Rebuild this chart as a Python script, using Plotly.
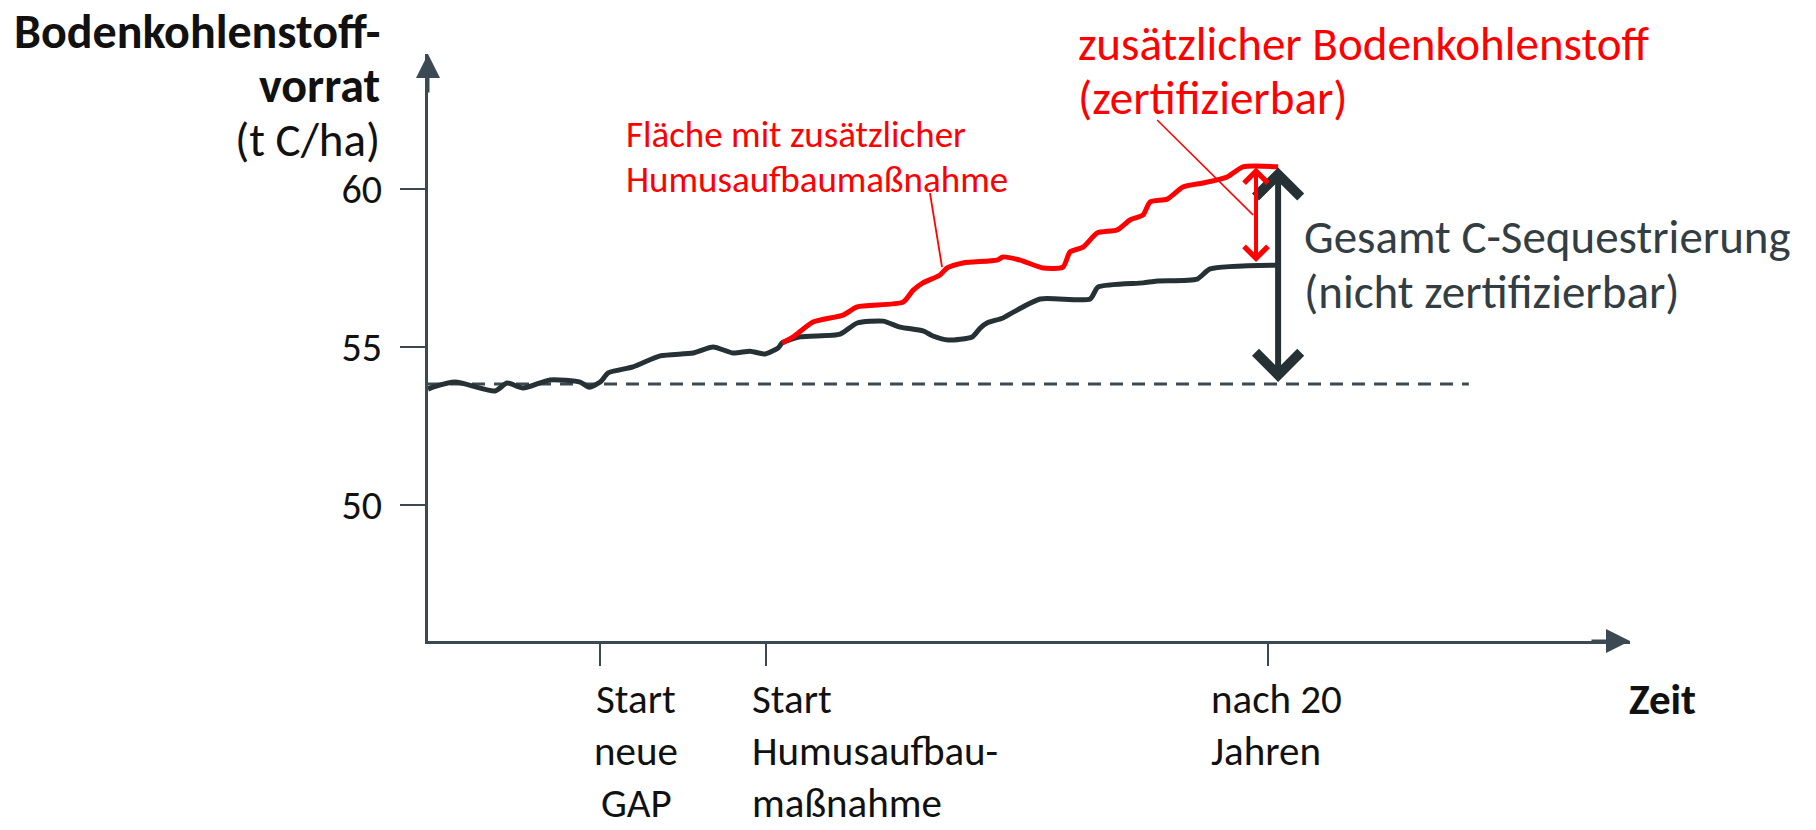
import plotly.graph_objects as go

# ---------------- data ----------------
# time axis: years relative to start of humus-building measure
black_t = [-13.47, -13.27, -12.39, -10.80, -10.32, -9.68, -8.61, -7.41, -7.05, -6.61, -6.29, -5.30,
           -4.22, -2.91, -2.11, -1.31, -0.64, -0.04, 0.48, 0.64, 1.35, 2.95, 3.63, 4.66, 5.34, 6.25,
           6.65, 7.25, 8.21, 8.53, 8.80, 9.44, 9.80, 10.92, 12.91, 13.23, 15.02, 15.58, 17.17, 17.69, 20.40]
black_c = [53.67, 53.73, 53.89, 53.61, 53.86, 53.70, 53.96, 53.89, 53.73, 53.89, 54.18, 54.37,
           54.72, 54.81, 55.00, 54.81, 54.87, 54.78, 54.97, 55.13, 55.32, 55.41, 55.76, 55.82, 55.63, 55.51,
           55.35, 55.22, 55.32, 55.60, 55.76, 55.92, 56.08, 56.52, 56.52, 56.90, 57.03, 57.09, 57.15, 57.47, 57.59]

red_t = [0.64, 1.08, 1.87, 3.07, 3.63, 5.46, 5.86, 6.25, 6.93, 7.21, 7.85, 9.20, 9.44, 10.12, 11.04,
         11.83, 12.11, 12.63, 13.19, 13.98, 14.50, 15.02, 15.30, 15.98, 16.61, 17.41, 18.37, 19.00, 20.40]
red_c = [55.13, 55.32, 55.79, 56.01, 56.27, 56.42, 56.80, 57.03, 57.28, 57.50, 57.66, 57.75, 57.85, 57.75, 57.50,
         57.53, 58.01, 58.16, 58.61, 58.70, 59.02, 59.18, 59.59, 59.68, 60.06, 60.19, 60.38, 60.70, 60.70]

baseline_c = 53.83
baseline_t = [-13.47, 28.0]

y_ticks = [50, 55, 60]
y_ticktext = ["50", "55", "60"]
x_ticks = [-6.6, 0, 20]
x_ticktext = [["Start", "neue", "GAP"], ["Start", "Humusaufbau-", "maßnahme"], ["nach 20", "Jahren"]]

end_t = 20.40          # "nach 20 Jahren" measurement point
red_arrow_t = 19.52
top_c = 60.68
red_bottom_c = 57.64
black_bottom_c = 53.85

# ---------------- styling ----------------
FONT = "Carlito, Lato, 'Open Sans', sans-serif"
DARK = "#263135"
AXIS = "#3b4a52"
RED = "#ff0000"

W, H = 1816, 830
L, R, T, B = 428, 186, 54, 189


def PX(x):
    return (x - L) / (W - L - R)


def PY(y):
    return (H - B - y) / (H - T - B)


fig = go.Figure()

fig.add_trace(go.Scatter(x=baseline_t, y=[baseline_c, baseline_c], mode="lines",
                         line=dict(color=AXIS, width=3, dash="13px,9px"), hoverinfo="skip"))
fig.add_trace(go.Scatter(x=black_t, y=black_c, mode="lines",
                         line=dict(color=DARK, width=5, shape="spline", smoothing=0.6)))
fig.add_trace(go.Scatter(x=red_t, y=red_c, mode="lines",
                         line=dict(color=RED, width=5, shape="spline", smoothing=0.6)))

ann = []
# axis arrows
ann.append(dict(x=1, y=0, xref="paper", yref="paper", ax=-40, ay=0, text="", showarrow=True,
                arrowhead=2, arrowsize=1.6, arrowwidth=3, arrowcolor=AXIS, standoff=0))
ann.append(dict(x=0, y=1, xref="paper", yref="paper", ax=0, ay=40, text="", showarrow=True,
                arrowhead=2, arrowsize=1.6, arrowwidth=3, arrowcolor=AXIS, standoff=0))
# double arrows
ann.append(dict(x=end_t, y=top_c, ax=end_t, ay=black_bottom_c, xref="x", yref="y", axref="x", ayref="y",
                text="", showarrow=True, arrowside="end+start", arrowhead=4, startarrowhead=4,
                arrowsize=1.45, startarrowsize=1.45, arrowwidth=6, arrowcolor=DARK, standoff=0, startstandoff=0))
ann.append(dict(x=red_arrow_t, y=top_c, ax=red_arrow_t, ay=red_bottom_c, xref="x", yref="y", axref="x", ayref="y",
                text="", showarrow=True, arrowside="end+start", arrowhead=4, startarrowhead=4,
                arrowsize=1.15, startarrowsize=1.15, arrowwidth=4, arrowcolor=RED, standoff=0, startstandoff=0))


def txt(s, x, y, xanchor, size, color="#111111", bold=False):
    if bold:
        s = "<b>" + s + "</b>"
    ann.append(dict(text=s, x=PX(x), y=PY(y), xref="paper", yref="paper", xanchor=xanchor, yanchor="middle",
                    showarrow=False, font=dict(family=FONT, size=size, color=color)))


# y-axis title
txt("Bodenkohlenstoff-", 382, 31, "right", 48, bold=True)
txt("vorrat", 382, 85, "right", 48, bold=True)
txt("(t C/ha)", 382, 140, "right", 47)

# x tick labels
line_y = [699, 751, 803]
XF = 41
for lbl, y in zip(x_ticktext[0], line_y):
    txt(lbl, 636, y, "center", XF)
for lbl, y in zip(x_ticktext[1], line_y):
    txt(lbl, 750, y, "left", XF)
for lbl, y in zip(x_ticktext[2], line_y):
    txt(lbl, 1209, y, "left", XF)
txt("Zeit", 1627, 699, "left", XF + 2, bold=True)

# annotations
txt("zusätzlicher Bodenkohlenstoff", 1076, 44, "left", 47, color=RED)
txt("(zertifizierbar)", 1076, 98, "left", 47, color=RED)
txt("Gesamt C-Sequestrierung", 1302, 237, "left", 47, color="#333e43")
txt("(nicht zertifizierbar)", 1302, 292, "left", 47, color="#333e43")
txt("Fläche mit zusätzlicher", 624, 134, "left", 37, color=RED)
txt("Humusaufbaumaßnahme", 624, 179, "left", 37, color=RED)

shapes = [
    dict(type="line", xref="x", yref="y", x0=6.53, y0=59.87, x1=7.01, y1=57.53, line=dict(color=RED, width=1.8)),
    dict(type="line", xref="x", yref="y", x0=15.58, y0=62.18, x1=19.40, y1=59.18, line=dict(color=RED, width=1.5)),
]

fig.update_layout(
    width=W, height=H, autosize=False,
    margin=dict(l=L, r=R, t=T, b=B),
    paper_bgcolor="white", plot_bgcolor="white",
    showlegend=False,
    annotations=ann, shapes=shapes,
    xaxis=dict(range=[-13.47, 34.42], showgrid=False, zeroline=False, showline=True, linecolor=AXIS,
               linewidth=3, ticks="outside", ticklen=22, tickwidth=2, tickcolor=AXIS,
               tickvals=x_ticks, showticklabels=False),
    yaxis=dict(range=[45.70, 64.27], showgrid=False, zeroline=False, showline=True, linecolor=AXIS,
               linewidth=3, ticks="outside", ticklen=25, tickwidth=2, tickcolor=AXIS,
               tickvals=y_ticks, ticktext=y_ticktext, ticklabelstandoff=10,
               tickfont=dict(family=FONT, size=40, color="#111111")),
)

fig.write_html("out.html", config={"displayModeBar": False},
               post_script="document.body.style.margin='0';document.body.style.overflow='hidden';")
